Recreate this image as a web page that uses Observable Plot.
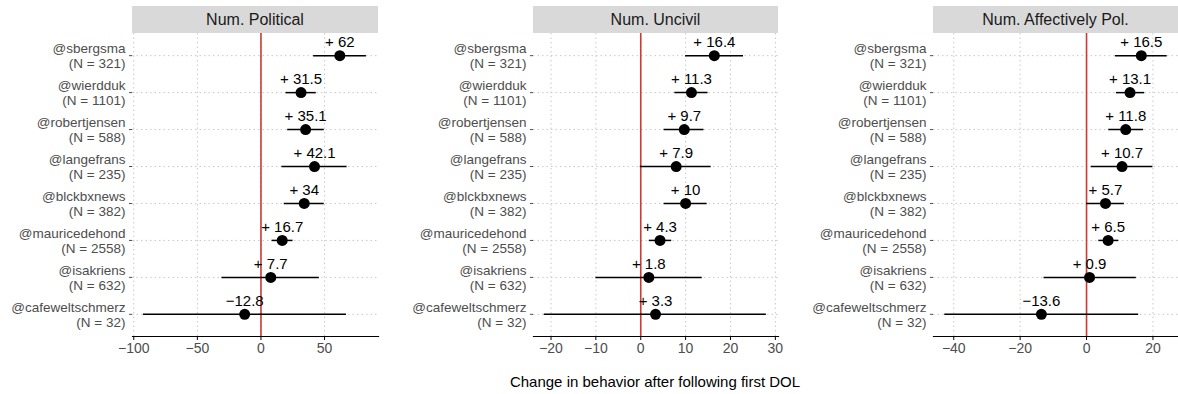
<!DOCTYPE html>
<html>
<head>
<meta charset="utf-8">
<script src="https://cdn.jsdelivr.net/npm/d3@7"></script>
<script src="https://cdn.jsdelivr.net/npm/@observablehq/plot@0.6"></script>
<style>
  body { margin: 0; background: #fff; }
  #root { position: relative; width: 1178px; height: 394px; overflow: hidden; font-family: "Liberation Sans", Arial, sans-serif; }
  .strip { position: absolute; top: 6px; height: 27px; background: #d9d9d9; color: #1a1a1a; font-size: 16px; line-height: 27px; text-align: center; }
  .pnl { position: absolute; top: 0; }
  .pnl svg { overflow: visible; }
  #xtitle { position: absolute; top: 373px; left: 132px; width: 1046px; text-align: center; font-size: 15px; color: #000; }
</style>
</head>
<body>
<div id="root"></div>
<script>
// ---- data ----
const accounts = ["@sbergsma", "@wierdduk", "@robertjensen", "@langefrans", "@blckbxnews", "@mauricedehond", "@isakriens", "@cafeweltschmerz"];
const ns = [321, 1101, 588, 235, 382, 2558, 632, 32];

const measures = ["Num. Political", "Num. Uncivil", "Num. Affectively Pol."];

const politicalEst = [62, 31.5, 35.1, 42.1, 34, 16.7, 7.7, -12.8];
const politicalLo  = [41.4, 19.7, 21, 16.5, 18.3, 8.7, -30.7, -92.4];
const politicalHi  = [82.9, 43.5, 49.8, 67.7, 49.8, 25.2, 45.9, 67.2];

const uncivilEst = [16.4, 11.3, 9.7, 7.9, 10, 4.3, 1.8, 3.3];
const uncivilLo  = [10.0, 7.6, 5.2, -0.1, 5.2, 1.9, -10.0, -21.5];
const uncivilHi  = [22.9, 15.0, 14.1, 15.7, 14.8, 6.9, 13.7, 28.0];

const affectEst = [16.5, 13.1, 11.8, 10.7, 5.7, 6.5, 0.9, -13.6];
const affectLo  = [8.7, 9.0, 6.7, 1.4, 0.0, 3.7, -12.8, -42.7];
const affectHi  = [24.3, 17.5, 17.2, 20.0, 11.4, 9.7, 15.0, 15.7];

const politicalTicks = [-100, -50, 0, 50];
const uncivilTicks = [-20, -10, 0, 10, 20, 30];
const affectTicks = [-40, -20, 0, 20];

const xTitle = "Change in behavior after following first DOL";

// ---- drawing ----
const font = '"Liberation Sans", Arial, sans-serif';
const rowLabels = accounts.map((a, i) => a + "\n(N = " + ns[i] + ")");
const fmtVal = v => v >= 0 ? "+ " + v : "\u2212" + Math.abs(v);

function panel(est, lo, hi, domain, ticks, width, marginLeft, marginRight) {
  const data = accounts.map((a, i) => ({label: rowLabels[i], est: est[i], lo: lo[i], hi: hi[i], txt: fmtVal(est[i])}));
  return Plot.plot({
    width, height: 360,
    marginTop: 33, marginBottom: 24, marginLeft, marginRight,
    style: {fontFamily: font, background: "transparent"},
    x: {domain, ticks, tickFormat: d3.format(""), label: null},
    y: {type: "point", domain: rowLabels, padding: 0.6, round: false, label: null},
    marks: [
      Plot.gridX(ticks, {stroke: "#c8c8c8", strokeOpacity: 1, strokeDasharray: "1.5,3", strokeWidth: 1}),
      Plot.gridY({stroke: "#c8c8c8", strokeOpacity: 1, strokeDasharray: "1.5,3", strokeWidth: 1}),
      Plot.ruleX([0], {stroke: "#cc3a33", strokeWidth: 1.6}),
      Plot.ruleY(data, {y: "label", x1: "lo", x2: "hi", stroke: "#000", strokeWidth: 1.5}),
      Plot.dot(data, {x: "est", y: "label", r: 5.5, fill: "#000", stroke: "none"}),
      Plot.text(data, {x: "est", y: "label", text: "txt", dy: -13.5, fontSize: 15, fill: "#000"}),
      Plot.frame({anchor: "bottom", stroke: "#000", strokeWidth: 1.2}),
      Plot.axisX(ticks, {tickSize: 4, tickPadding: 3, fontSize: 14, color: "#4d4d4d", stroke: "#000", tickFormat: d3.format(""), label: null}),
      Plot.axisY({tickSize: 3, tickPadding: 4, fontSize: 13.5, lineHeight: 1.12, color: "#4d4d4d", stroke: "#4d4d4d", label: null})
    ]
  });
}

const root = document.getElementById("root");
const specs = [
  {est: politicalEst, lo: politicalLo, hi: politicalHi, domain: [-101, 92.4], ticks: politicalTicks, left: 0, width: 380, ml: 132, mr: 2},
  {est: uncivilEst, lo: uncivilLo, hi: uncivilHi, domain: [-23.9, 30.7], ticks: uncivilTicks, left: 380, width: 400, ml: 153, mr: 2},
  {est: affectEst, lo: affectLo, hi: affectHi, domain: [-46.1, 27.7], ticks: affectTicks, left: 780, width: 398, ml: 153, mr: 0}
];
specs.forEach((s, k) => {
  const wrap = document.createElement("div");
  wrap.className = "pnl";
  wrap.style.left = s.left + "px";
  wrap.appendChild(panel(s.est, s.lo, s.hi, s.domain, s.ticks, s.width, s.ml, s.mr));
  root.appendChild(wrap);
  const strip = document.createElement("div");
  strip.className = "strip";
  strip.style.left = (s.left + s.ml) + "px";
  strip.style.width = (s.width - s.ml - s.mr) + "px";
  strip.textContent = measures[k];
  root.appendChild(strip);
});
const xt = document.createElement("div");
xt.id = "xtitle";
xt.textContent = xTitle;
root.appendChild(xt);
</script>
</body>
</html>
